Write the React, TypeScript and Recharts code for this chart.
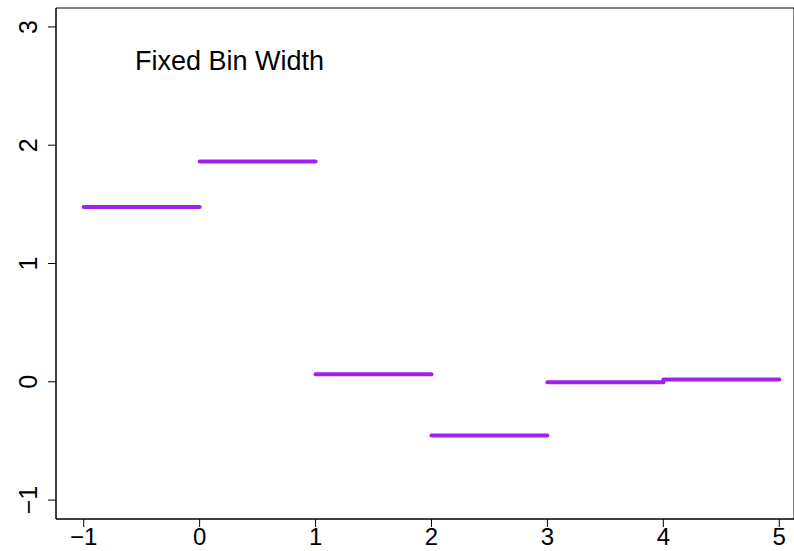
import { LineChart, Line, XAxis, YAxis, ReferenceArea } from 'recharts';

const BIN_EDGES = [-1, 0, 1, 2, 3, 4, 5];
const BIN_VALUES = [1.478, 1.863, 0.063, -0.454, -0.004, 0.019];
const X_TICKS = [-1, 0, 1, 2, 3, 4, 5];
const Y_TICKS = [-1, 0, 1, 2, 3];
const TITLE = 'Fixed Bin Width';

const FONT = "'Liberation Sans', Arial, sans-serif";
const PURPLE = '#a020f0';
const X_DOMAIN: [number, number] = [-1.239, 5.127];
const Y_DOMAIN: [number, number] = [-1.16, 3.16];

const fmt = (v: number) => (v < 0 ? '\u2212' + Math.abs(v) : String(v));

const segments = BIN_VALUES.map((v, i) => [
  { x: BIN_EDGES[i], y: v },
  { x: BIN_EDGES[i + 1], y: v },
]);

function XTick(props: any) {
  const { x, y, payload } = props;
  return (
    <text x={x} y={y + 16} textAnchor="middle" fontFamily={FONT} fontSize={24} fill="#000">
      {fmt(payload.value)}
    </text>
  );
}

function YTick(props: any) {
  const { x, y, payload } = props;
  const tx = x - 9;
  return (
    <text
      x={tx}
      y={y}
      transform={`rotate(-90, ${tx}, ${y})`}
      textAnchor="middle"
      fontFamily={FONT}
      fontSize={25}
      fill="#000"
    >
      {fmt(payload.value)}
    </text>
  );
}

export default function App() {
  return (
    <div style={{ position: 'absolute', left: 0, top: 0, width: 794, height: 551, background: '#fff' }}>
      <LineChart width={794} height={551} margin={{ top: 8, right: 0, bottom: 0, left: 0 }}>
        <XAxis
          type="number"
          dataKey="x"
          domain={X_DOMAIN}
          ticks={X_TICKS}
          allowDataOverflow
          height={32}
          tickSize={8}
          axisLine={{ stroke: '#000' }}
          tickLine={{ stroke: '#000' }}
          tick={<XTick />}
        />
        <YAxis
          type="number"
          dataKey="y"
          domain={Y_DOMAIN}
          ticks={Y_TICKS}
          allowDataOverflow
          width={56}
          tickSize={8}
          axisLine={{ stroke: '#000' }}
          tickLine={{ stroke: '#000' }}
          tick={<YTick />}
        />
        <ReferenceArea
          x1={X_DOMAIN[0]}
          x2={X_DOMAIN[1]}
          y1={Y_DOMAIN[0]}
          y2={Y_DOMAIN[1]}
          fill="none"
          stroke="#000"
          strokeWidth={1}
          fillOpacity={0}
        />
        {segments.map((seg, i) => (
          <Line
            key={i}
            data={seg}
            dataKey="y"
            type="linear"
            stroke={PURPLE}
            strokeWidth={4}
            strokeLinecap="round"
            dot={false}
            activeDot={false}
            isAnimationActive={false}
          />
        ))}
      </LineChart>
      <svg width={794} height={551} style={{ position: 'absolute', left: 0, top: 0, pointerEvents: 'none' }}>
        <text x={135} y={70} fontFamily={FONT} fontSize={27} fill="#000">
          {TITLE}
        </text>
      </svg>
    </div>
  );
}
